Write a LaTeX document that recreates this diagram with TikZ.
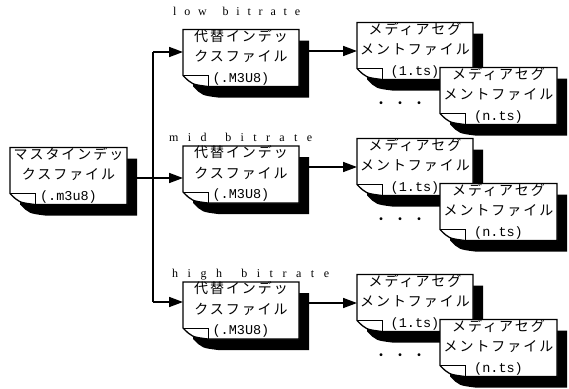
\documentclass[tikz,border=0pt]{standalone}
\usepackage{fontspec}
\setmainfont{Liberation Serif}
\newfontfamily\jp{Noto Sans CJK JP}[LetterSpace=14]
\newfontfamily\lat{Liberation Mono}
\usetikzlibrary{arrows.meta}
\tikzset{
  docframe/.style={minimum height=57pt, inner sep=0pt, outer sep=0pt},
  doctext/.style={inner sep=0pt, align=center, font=\jp\fontsize{14}{20.5}\selectfont},
  lbl/.style={inner sep=0pt, font=\fontsize{12}{12}\selectfont},
  conn/.style={line width=1.6pt},
  arr/.style={line width=1.6pt, -{Triangle[length=14pt,width=10pt]}},
}
\newcommand\pagepath[3]{([shift={(#2,#3)}]#1.north west) -- ([shift={(#2,#3)}]#1.north east) -- ([shift={(#2,#3)}]#1.south east) -- ([shift={(#2+25pt,#3)}]#1.south west) .. controls ([shift={(#2+9pt,#3+2pt)}]#1.south west) .. ([shift={(#2,#3+11pt)}]#1.south west) -- cycle}
\newcommand\docbox[4]{%
  \node[docframe, minimum width=#3] (#1) at (#2) {};
  \fill[black] \pagepath{#1}{10pt}{-11pt};
  \draw[fill=white, line width=1.3pt, line join=miter] \pagepath{#1}{0pt}{0pt};
  \draw[line width=1pt] ([yshift=11pt]#1.south west) -- ([shift={(25pt,11pt)}]#1.south west) -- ([xshift=25pt]#1.south west);
  \node[doctext] (#1-t) at ([yshift=1pt]#1.center) {#4};
}
\newcommand\lt[1]{{\lat\fontsize{13.5}{20.5}\selectfont #1}}
\begin{document}
\begin{tikzpicture}[x=1pt,y=-1pt]
\useasboundingbox (0,0) rectangle (569,388);
\fill[white] (0,0) rectangle (569,388);

% master
\docbox{master}{68.5,176}{117pt}{マスタインデッ\\クスファイル\\\lt{(.m3u8)}}

% trunk
\coordinate (trT) at (153,52);
\coordinate (trM) at (153,178);
\coordinate (trB) at (153,302);
\draw[conn] ([xshift=10pt]master.east |- trM) -- (trM);
\draw[conn] (trT) -- (trB);

% alternate index files
\docbox{altL}{241,58}{116pt}{代替インデッ\\クスファイル\\\lt{(.M3U8)}}
\docbox{altM}{241,174.5}{116pt}{代替インデッ\\クスファイル\\\lt{(.M3U8)}}
\docbox{altH}{241,310.5}{116pt}{代替インデッ\\クスファイル\\\lt{(.M3U8)}}

\draw[arr] (trT) -- (trT -| altL.west);
\draw[arr] (trM) -- (trM -| altM.west);
\draw[arr] (trB) -- (trB -| altH.west);

% labels
\node[lbl, anchor=base west] (lowlbl) at (173,16) {\makebox[127pt][l]{l\hfill o\hfill w\hfill\hfill b\hfill i\hfill t\hfill r\hfill a\hfill t\hfill e}};
\node[lbl, anchor=base west] (midlbl) at (169,141) {\makebox[143pt][l]{m\hfill i\hfill d\hfill\hfill b\hfill i\hfill t\hfill r\hfill a\hfill t\hfill e}};
\node[lbl, anchor=base west] (highlbl) at (172,277) {\makebox[157pt][l]{h\hfill i\hfill g\hfill h\hfill\hfill b\hfill i\hfill t\hfill r\hfill a\hfill t\hfill e}};

% media segment files
\docbox{mL1}{415,51}{116pt}{メディアセグ\\メントファイル\\\lt{(1.ts)}}
\node[doctext] (dotsL) at (400,105) {・\hspace{5pt}・\hspace{5pt}・};
\docbox{mLn}{498.5,96}{117pt}{メディアセグ\\メントファイル\\\lt{(n.ts)}}

\docbox{mM1}{415,167}{116pt}{メディアセグ\\メントファイル\\\lt{(1.ts)}}
\node[doctext] (dotsM) at (400,221) {・\hspace{5pt}・\hspace{5pt}・};
\docbox{mMn}{498.5,212}{117pt}{メディアセグ\\メントファイル\\\lt{(n.ts)}}

\docbox{mH1}{415,303}{116pt}{メディアセグ\\メントファイル\\\lt{(1.ts)}}
\node[doctext] (dotsH) at (400,357) {・\hspace{5pt}・\hspace{5pt}・};
\docbox{mHn}{498.5,348}{117pt}{メディアセグ\\メントファイル\\\lt{(n.ts)}}

\draw[arr] ([xshift=10pt]altL.east |- mL1.west) -- (mL1.west);
\draw[arr] ([xshift=10pt]altM.east |- mM1.west) -- (mM1.west);
\draw[arr] ([xshift=10pt]altH.east |- mH1.west) -- (mH1.west);
\end{tikzpicture}
\end{document}
